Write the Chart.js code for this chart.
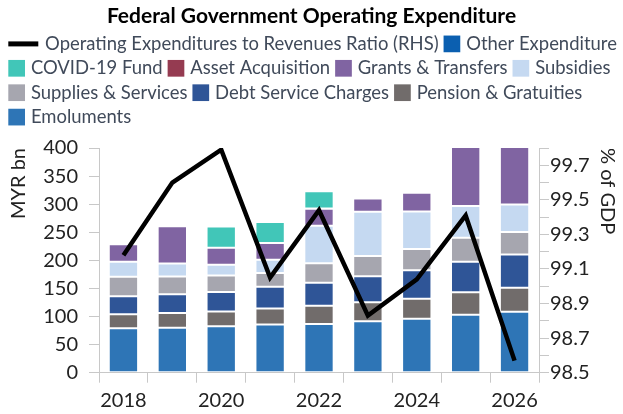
<!DOCTYPE html>
<html>
<head>
<meta charset="utf-8">
<script src="https://cdn.jsdelivr.net/npm/chart.js@4/dist/chart.umd.min.js"></script>
<style>
  html, body { margin: 0; padding: 0; background: #ffffff; }
  #wrap { width: 623px; height: 414px; }
</style>
</head>
<body>
<div id="wrap"><canvas id="c" width="623" height="414"></canvas></div>
<script>
// ---- Data ----
const years = ['2018', '2019', '2020', '2021', '2022', '2023', '2024', '2025', '2026'];
const xTickLabels = ['2018', '', '2020', '', '2022', '', '2024', '', '2026'];
const leftTickLabels = ['0', '50', '100', '150', '200', '250', '300', '350', '400'];
const rightTickLabels = ['98.5', '98.7', '98.9', '99.1', '99.3', '99.5', '99.7'];

const emoluments  = [79.2, 79.8, 82.8, 85.9, 86.9, 91.8, 95.9, 103.0, 108.4];
const pension     = [25.0, 26.3, 26.3, 28.6, 32.2, 33.5, 35.8, 40.1, 42.9];
const debtService = [31.7, 33.5, 34.7, 38.6, 41.1, 46.5, 50.8, 54.2, 59.0];
const supplies    = [35.0, 31.5, 29.2, 24.5, 34.7, 35.8, 37.6, 42.9, 40.1];
const subsidies   = [26.8, 23.3, 19.1, 23.3, 66.7, 78.7, 66.7, 56.7, 48.8];
const grants      = [31.0, 66.2, 30.4, 29.9, 30.4, 23.8, 33.5, 110.0, 110.0];
const assetAcq    = [0, 0, 0, 0, 0.5, 1.0, 1.0, 0, 0];
const covidFund   = [0, 0, 37.6, 37.6, 30.4, 0, 0, 0, 0];
const otherExp    = [1.5, 1.5, 1.5, 0.8, 0.8, 0, 0, 0, 0];
const opexRatio   = [99.18, 99.60, 99.79, 99.05, 99.44, 98.83, 99.04, 99.41, 98.57];

const FONT = 'Lato, "Open Sans", sans-serif';
const TXT = '#222222';
const AXIS = '#c8c8c8';
const LEG_FONT = 18.45;

function bar(label, data, color) {
  return { type: 'bar', label, data, backgroundColor: color,
           borderWidth: 1, borderColor: 'rgba(255,255,255,0.28)', borderSkipped: false,
           yAxisID: 'y', order: 1, barPercentage: 0.6, categoryPercentage: 1.0 };
}

const datasets = [
  bar('Emoluments', emoluments, '#2E75B6'),
  bar('Pension & Gratuities', pension, '#716C6B'),
  bar('Debt Service Charges', debtService, '#2F5597'),
  bar('Supplies & Services', supplies, '#A6A6AF'),
  bar('Subsidies', subsidies, '#C5D9F1'),
  bar('Grants & Transfers', grants, '#8064A2'),
  bar('Asset Acquisition', assetAcq, '#953B51'),
  bar('COVID-19 Fund', covidFund, '#41C6B8'),
  bar('Other Expenditure', otherExp, '#0B5FB0'),
  { type: 'line', label: 'Operating Expenditures to Revenues Ratio (RHS)', data: opexRatio,
    borderColor: '#000000', backgroundColor: '#000000', borderWidth: 4.5, pointRadius: 0,
    tension: 0, fill: false, yAxisID: 'y1', order: -1 }
];
const LINE_IDX = datasets.length - 1;

const legendExtra = {
  id: 'legendExtra',
  beforeInit(chart) {
    const orig = chart.legend.fit;
    chart.legend.fit = function () {
      this.maxWidth = this.maxWidth + 40;
      orig.call(this);
      this.height += 11.2;
    };
  },
  afterLayout(chart) {
    const lg = chart.legend;
    lg.left += 3.3;
    lg.right = lg.left + 700;
  },
  afterDraw(chart) {
    const lg = chart.legend;
    const ctx = chart.ctx;
    ctx.save();
    lg.legendItems.forEach((it, i) => {
      const hb = lg.legendHitBoxes[i];
      if (!hb) return;
      const cy = hb.top + hb.height / 2;
      if (it.datasetIndex === LINE_IDX) {
        ctx.strokeStyle = '#000';
        ctx.lineWidth = 5;
        ctx.beginPath();
        ctx.moveTo(hb.left, cy);
        ctx.lineTo(hb.left + 30, cy);
        ctx.stroke();
      } else {
        ctx.fillStyle = it.realColor;
        ctx.fillRect(hb.left, cy - 8.35, 16.7, 16.7);
      }
    });
    ctx.restore();
  }
};

new Chart(document.getElementById('c'), {
  data: { labels: years, datasets },
  plugins: [legendExtra],
  options: {
    responsive: false,
    devicePixelRatio: 1,
    animation: false,
    layout: { padding: 0 },
    plugins: {
      tooltip: { enabled: false },
      title: {
        display: true,
        text: 'Federal Government Operating Expenditure',
        color: '#000000',
        font: { family: FONT, size: 21, weight: 'bold' },
        padding: { top: 4, bottom: 0 }
      },
      legend: {
        position: 'top',
        align: 'start',
        labels: {
          color: '#404a5a',
          font: { family: FONT, size: LEG_FONT },
          boxWidth: 13.4,
          boxHeight: 19.4,
          padding: 5,
          sort: (a, b) => b.datasetIndex - a.datasetIndex,
          generateLabels(chart) {
            const items = Chart.defaults.plugins.legend.labels.generateLabels(chart);
            items.forEach(it => {
              it.realColor = chart.data.datasets[it.datasetIndex].backgroundColor;
              it.lineWidth = 0;
              it.fillStyle = 'rgba(0,0,0,0)';
              it.strokeStyle = 'rgba(0,0,0,0)';
              if (it.datasetIndex === LINE_IDX) {
                it.text = '   ' + it.text;
              }
            });
            return items;
          }
        }
      }
    },
    scales: {
      x: {
        stacked: true,
        offset: true,
        grid: { display: true, offset: true, drawOnChartArea: false, drawTicks: true, tickLength: 10, color: AXIS },
        border: { display: true, color: AXIS, width: 1 },
        ticks: {
          autoSkip: false, maxRotation: 0, color: TXT, padding: 6,
          font: { family: FONT, size: 20 },
          callback: (v, i) => xTickLabels[i]
        },
        afterFit: s => { s.height = 41.3; }
      },
      y: {
        stacked: true,
        position: 'left',
        min: 0, max: 400,
        grid: { drawOnChartArea: false, drawTicks: true, tickLength: 10, color: AXIS },
        border: { display: true, color: AXIS, width: 1 },
        ticks: {
          stepSize: 50, color: TXT, padding: 11,
          font: { family: FONT, size: 20 },
          callback: (v, i) => leftTickLabels[i]
        },
        title: {
          display: true, text: 'MYR bn', align: 'end', color: TXT,
          font: { family: FONT, size: 20 }, padding: { top: 7, bottom: 0 }
        },
        afterFit: s => { s.width = 99; }
      },
      y1: {
        position: 'right',
        min: 98.5, max: 99.8,
        grid: { drawOnChartArea: false, drawTicks: true, tickLength: 10, color: AXIS },
        border: { display: true, color: AXIS, width: 1 },
        ticks: {
          stepSize: 0.1, color: TXT, padding: 1, autoSkip: false,
          font: { family: FONT, size: 20 },
          callback: (v) => { const s = Number(v).toFixed(1); return rightTickLabels.includes(s) ? s : ''; }
        },
        title: {
          display: true, text: '% of GDP', align: 'end', color: TXT,
          font: { family: FONT, size: 20 }, padding: { top: 4, bottom: 0 }
        },
        afterFit: s => { s.width = 84; }
      }
    }
  }
});
</script>
</body>
</html>
